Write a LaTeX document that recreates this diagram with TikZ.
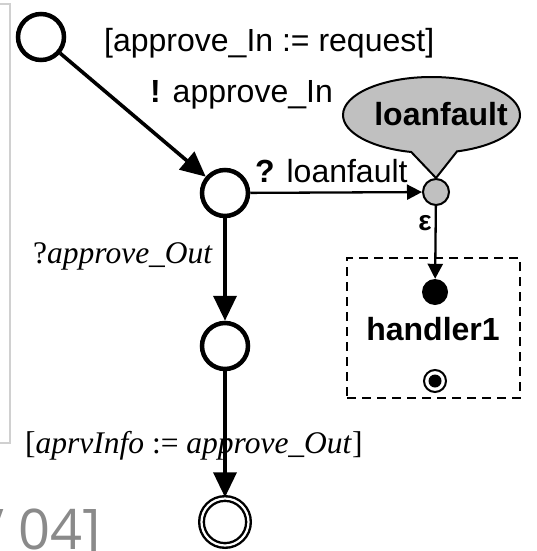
\documentclass[tikz,border=0pt]{standalone}
\usepackage{fontspec}
\setmainfont{Liberation Serif}
\setsansfont{Liberation Sans}
\newfontfamily\slidefont{Open Sans}
\usetikzlibrary{arrows.meta,shapes.callouts}
\definecolor{faultgray}{HTML}{C0C0C0}
\definecolor{framegray}{HTML}{D0D0D0}
\definecolor{footgray}{HTML}{8A8A8A}

\tikzset{
  state/.style={circle, draw, line width=4.5pt, minimum size=46pt, inner sep=0pt},
  finalstate/.style={circle, draw, double, line width=2.4pt, double distance=2.2pt, minimum size=47pt, inner sep=0pt},
  flow/.style={line width=3.6pt, -{Triangle[length=25pt,width=23pt]}},
  thinflow/.style={line width=2.3pt, -{Triangle[length=15pt,width=15pt]}},
  lbl/.style={font=\fontsize{32}{36}\selectfont\sffamily, inner sep=0pt, anchor=base west},
  slbl/.style={font=\fontsize{31.5}{36}\selectfont, inner sep=0pt, anchor=base west},
  boldlbl/.style={font=\fontsize{32}{36}\selectfont\sffamily\bfseries, inner sep=0pt, anchor=base},
}

\begin{document}
\begin{tikzpicture}[x=1pt,y=-1pt]
\useasboundingbox (0,0) rectangle (537,551);

% frame of the slide area and footer
\draw[framegray, line width=1.5pt] (-5,4) -- (10,4) -- (10,443) -- (-5,443);
\node[font=\slidefont\fontsize{56}{60}\selectfont, text=footgray, inner sep=0pt, anchor=base east] (foot) at (101,549) {V 04]};

% states
\node[state] (s0) at (41,37) {};
\node[state] (s1) at (225,193) {};
\node[state] (s2) at (225,346) {};
\node[finalstate] (s3) at (225,522) {};

% fault event and its callout
\node[circle, draw, fill=faultgray, line width=2pt, minimum size=26pt, inner sep=0pt] (fault) at (436,192) {};
\node[ellipse callout, draw, fill=faultgray, line width=2pt, minimum width=177pt, minimum height=76pt, inner sep=0pt,
      callout absolute pointer={(fault.north)}, callout pointer arc=30] (bubble) at (431.5,115) {};
\node[boldlbl] (bubbletext) at (441,125) {loanfault};

% fault handler scope
\node[draw, dash pattern=on 9pt off 6pt, line width=2.3pt, minimum width=173pt, minimum height=140pt, inner sep=0pt] (handler) at (433.5,328) {};
\node[circle, fill, minimum size=26pt, inner sep=0pt] (hstart) at (435,292) {};
\node[boldlbl] (hname) at (433,340) {handler1};
\node[circle, draw, line width=2pt, minimum size=22pt, inner sep=0pt] (hend) at (435,381) {};
\node[circle, fill, minimum size=13pt, inner sep=0pt] (hendcore) at (hend) {};

% transition labels
\node[lbl] (guard1) at (104,52) {[approve\_In := request]};
\node[lbl] (send1) at (150,102) {\textbf{!} approve\_In};
\node[lbl] (recv1) at (255,182) {\textbf{?} loanfault};
\node[slbl] (recv2) at (33,263) {?\textit{approve\_Out}};
\node[slbl] (guard2) at (25,453) {[\textit{aprvInfo} := \textit{approve\_Out}]};
\node[font=\fontsize{28}{30}\selectfont\sffamily\bfseries, inner sep=0pt, anchor=base] (eps) at (425,230) {ε};

% transitions
\draw[flow] (s0) -- (s1);
\draw[thinflow] (s1) -- (fault);
\draw[flow] (s1) -- (s2);
\draw[flow] (s2) -- (s3);
\draw[thinflow] (fault) -- (hstart);
\end{tikzpicture}
\end{document}
